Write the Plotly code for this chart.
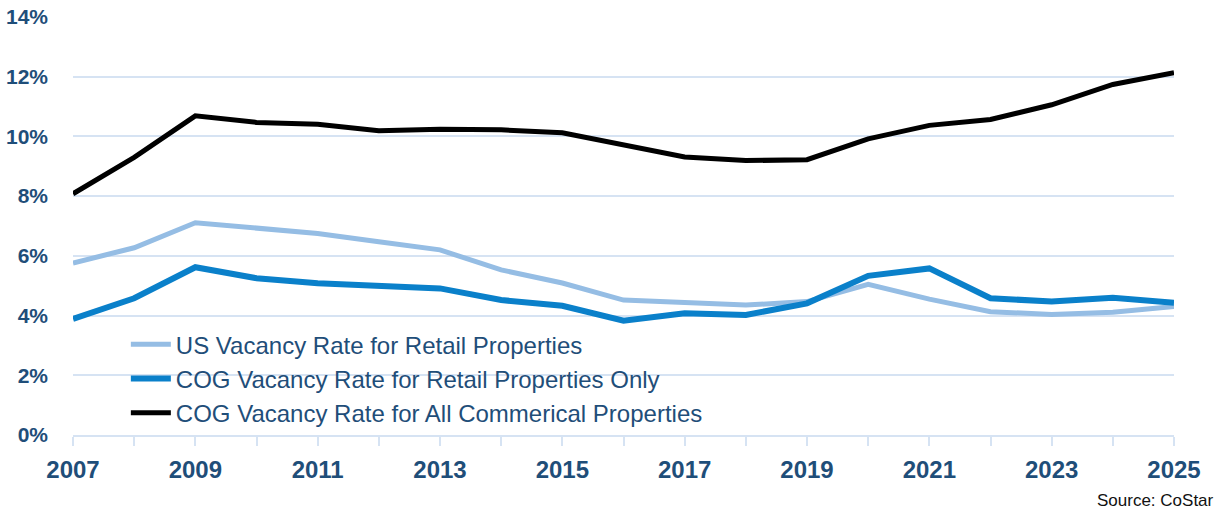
import plotly.graph_objects as go

# === DADOS ===
anos = list(range(2007, 2026))
us_varejo = [5.76, 6.27, 7.11, 6.92, 6.75, 6.47, 6.20, 5.53, 5.09, 4.52, 4.42, 4.35, 4.47,
             5.05, 4.55, 4.13, 4.04, 4.11, 4.30]
cog_varejo = [3.89, 4.58, 5.62, 5.25, 5.08, 4.99, 4.91, 4.52, 4.33, 3.83, 4.08, 4.02, 4.41,
              5.33, 5.58, 4.58, 4.47, 4.60, 4.43]
cog_total = [8.08, 9.30, 10.69, 10.47, 10.41, 10.19, 10.24, 10.22, 10.12, 9.72, 9.31, 9.19, 9.22,
             9.92, 10.37, 10.57, 11.06, 11.74, 12.13]
nomes = ["US Vacancy Rate for Retail Properties",
         "COG Vacancy Rate for Retail Properties Only",
         "COG Vacancy Rate for All Commerical Properties"]

AZUL_TEXTO = "#1F4E79"
GRADE = "#D6E3F3"

fig = go.Figure()
fig.add_trace(go.Scatter(x=anos, y=us_varejo, mode="lines", name=nomes[0],
                         line=dict(color="#95BDE4", width=5)))
fig.add_trace(go.Scatter(x=anos, y=cog_varejo, mode="lines", name=nomes[1],
                         line=dict(color="#0A80CA", width=6)))
fig.add_trace(go.Scatter(x=anos, y=cog_total, mode="lines", name=nomes[2],
                         line=dict(color="#000000", width=5)))

fig.update_layout(
    width=1218, height=510,
    margin=dict(l=73, r=44, t=17, b=75, autoexpand=False),
    plot_bgcolor="white", paper_bgcolor="white",
    font=dict(family="Liberation Sans", color=AZUL_TEXTO),
    showlegend=True,
    legend=dict(x=0.048, y=0.27, xanchor="left", yanchor="top",
                bgcolor="rgba(0,0,0,0)", font=dict(size=24, color=AZUL_TEXTO),
                tracegroupgap=0, itemwidth=40),
)

fig.update_xaxes(
    range=[2007, 2025], tickmode="linear", tick0=2007, dtick=2, automargin=False,
    showgrid=False, showline=True, linecolor=GRADE, linewidth=2,
    ticks="outside", ticklen=9, tickcolor=GRADE, tickwidth=2,
    minor=dict(dtick=1, tick0=2007, ticks="outside", ticklen=9, tickcolor=GRADE, tickwidth=2),
    tickfont=dict(size=24, color=AZUL_TEXTO, family="Liberation Sans", weight="bold"),
    ticklabelstandoff=3,
)
fig.update_yaxes(
    range=[0, 14], dtick=2, ticksuffix="%", showgrid=True, gridcolor=GRADE, gridwidth=2,
    zeroline=False, showline=False, automargin=False,
    tickfont=dict(size=21, color=AZUL_TEXTO, family="Liberation Sans", weight="bold"),
    ticklabelstandoff=24,
)

fig.add_annotation(text="Source: CoStar", xref="paper", yref="paper", x=1.038, y=-0.128,
                   xanchor="right", yanchor="top", showarrow=False,
                   font=dict(size=17, color="#111111", family="Liberation Sans"))

# tira a margem padrão do body para o gráfico ocupar a janela inteira
fig.write_html("out.html", config={"displayModeBar": False},
               post_script="document.body.style.margin='0';")
